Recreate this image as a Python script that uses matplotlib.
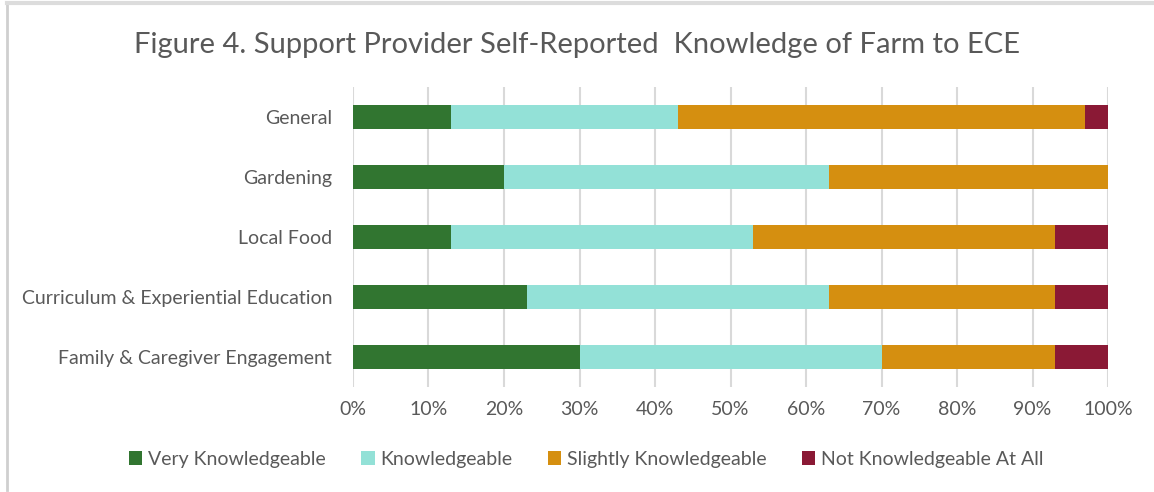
import numpy as np
import matplotlib.pyplot as plt
from matplotlib.lines import Line2D

## Chart values (percent of respondents)
categories = ['General', 'Gardening', 'Local Food',
              'Curriculum & Experiential Education', 'Family & Caregiver Engagement']
series_names = ['Very Knowledgeable', 'Knowledgeable',
                'Slightly Knowledgeable', 'Not Knowledgeable At All']
very = [13, 20, 13, 23, 30]
knowledgeable = [30, 43, 40, 40, 40]
slightly = [54, 37, 40, 30, 23]
not_at_all = [3, 0, 7, 7, 7]
ticks = [0, 10, 20, 30, 40, 50, 60, 70, 80, 90, 100]

colors = ['#317530', '#93E1D7', '#D58F10', '#8A1935']
txt = '#595959'

plt.rcParams['font.family'] = ['Lato', 'DejaVu Sans']

fig = plt.figure(figsize=(11.54, 4.92), dpi=100)
ax = fig.add_axes([353/1154, 1-387/492, 755/1154, 300/492])

y = np.arange(len(categories))
left = np.zeros(len(categories))
for name, vals, c in zip(series_names, [very, knowledgeable, slightly, not_at_all], colors):
    ax.barh(y, vals, left=left, height=0.4, color=c, label=name, zorder=3)
    left += np.array(vals)

ax.set_xlim(0, 100)
ax.set_ylim(len(categories) - 0.5, -0.5)
ax.set_xticks(ticks)
ax.set_xticklabels([f'{t}%' for t in ticks])
ax.set_yticks(y)
ax.set_yticklabels(categories)
ax.tick_params(axis='both', length=0, labelsize=14, labelcolor=txt)
ax.tick_params(axis='y', pad=15)
ax.tick_params(axis='x', pad=10)
ax.grid(axis='x', color='#D9D9D9', linewidth=1.5, zorder=0)
for s in ax.spines.values():
    s.set_visible(False)

fig.text(0.5, 1-45/492, 'Figure 4. Support Provider Self-Reported  Knowledge of Farm to ECE',
         ha='center', va='center', fontsize=21, color=txt)

fig.legend(loc='center', bbox_to_anchor=(0.508, 1-459/492), ncol=4, frameon=False,
           fontsize=14, labelcolor=txt, handlelength=0.7, handleheight=0.7,
           handletextpad=0.3, columnspacing=1.8)

# frame of the pasted chart: left and top edges
fig.add_artist(Line2D([7/1154, 7/1154], [1-490/492, 1-3/492], transform=fig.transFigure,
                      color='#CFCFCF', linewidth=2))
fig.add_artist(Line2D([7/1154, 1], [1-3/492, 1-3/492], transform=fig.transFigure,
                      color='#DCDCDC', linewidth=3))

fig.savefig('out.png', dpi=100)
